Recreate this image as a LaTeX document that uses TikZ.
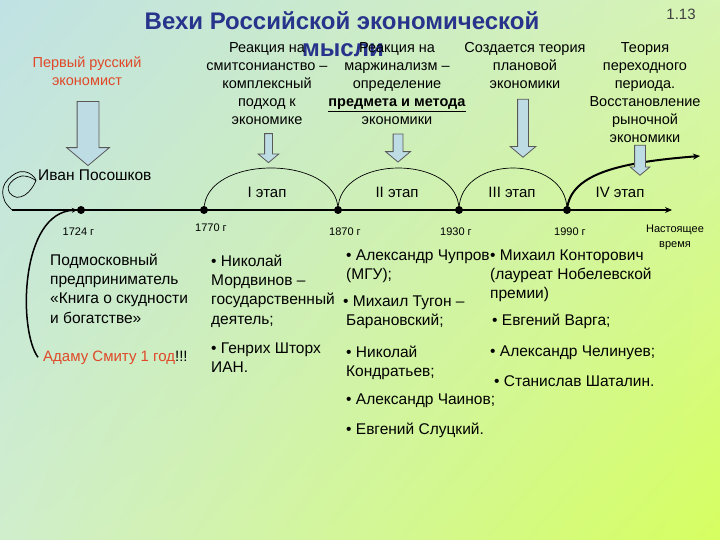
\documentclass[tikz,border=0pt]{standalone}
\usepackage{fontspec}
\setmainfont{Liberation Sans}
\usetikzlibrary{arrows.meta,shapes.arrows,shadings}

\definecolor{titleblue}{RGB}{40,52,140}
\definecolor{hintred}{RGB}{224,72,40}
\definecolor{arrowfill}{RGB}{190,220,228}
\definecolor{bgA}{RGB}{192,226,228}
\definecolor{bgB}{RGB}{214,244,178}
\definecolor{bgC}{RGB}{208,238,204}
\definecolor{bgD}{RGB}{214,255,96}

\newcommand\fs[2]{\fontsize{#1}{#2}\selectfont}

\begin{document}
\begin{tikzpicture}[x=1pt, y=-1pt,
  headline/.style={font=\fs{24}{28}\bfseries, text=titleblue, inner sep=0pt, anchor=base},
  lead/.style={font=\fs{14.5}{18}, align=center, inner sep=0pt, anchor=north},
  entry/.style={font=\fs{15.5}{19.3}, align=left, inner sep=0pt, anchor=north west},
  date/.style={font=\fs{11}{15}, inner sep=0pt, anchor=base, align=center},
  stagelbl/.style={font=\fs{15}{18}, inner sep=0pt, anchor=base},
  dot/.style={circle, fill=black, minimum size=8pt, inner sep=0pt},
  timeline/.style={line width=2.4pt, -{Stealth[length=7pt,width=6pt]}},
  stagearc/.style={line width=0.7pt},
  blockarr/.style={single arrow, draw=black!65, fill=arrowfill, line width=0.8pt,
                   shape border rotate=270, single arrow tip angle=100}
]
  \useasboundingbox (0,0) rectangle (720,540);
  \shade[upper left=bgA, upper right=bgB, lower left=bgC, lower right=bgD]
    (0,0) rectangle (720,540);

  % Title
  \node[headline] (t1) at (342,30) {Вехи Российской экономической};
  \node[headline] (t2) at (343,57) {мысли};
  \node[font=\fs{15}{18}, text=black!75, inner sep=0pt, anchor=base] (pg) at (681,20) {1.13};

  % Top captions
  \node[lead, text=hintred] (first) at (87,54.4) {\strut Первый русский\\экономист};
  \node[lead] (c1) at (267,40) {\strut Реакция на\\смитсонианство –\\комплексный\\подход к\\экономике};
  \node[lead] (c2) at (397,40) {\strut Реакция на\\маржинализм –\\определение\\\underline{\textbf{предмета и метода}}\\экономики};
  \node[lead] (c3) at (525,40) {\strut Создается теория\\плановой\\экономики};
  \node[lead] (c4) at (645,40) {\strut Теория\\переходного\\периода.\\Восстановление\\рыночной\\экономики};

  % Timeline
  \coordinate (ax0) at (12,210);
  \coordinate (axend) at (672,210);
  \coordinate (now) at (700,156);
  \draw[timeline] (ax0) -- (axend);
  \node[dot] (d1724) at (81,210) {};
  \node[dot] (d1770) at (204,210) {};
  \node[dot] (d1870) at (338,210) {};
  \node[dot] (d1930) at (459,210) {};
  \node[dot] (d1990) at (567,210) {};

  \draw[stagearc] (d1770.center) .. controls +(0,-56) and +(0,-56) .. (d1870.center);
  \draw[stagearc] (d1870.center) .. controls +(0,-56) and +(0,-56) .. (d1930.center);
  \draw[stagearc] (d1930.center) .. controls +(0,-56) and +(0,-56) .. (d1990.center);
  \draw[line width=2pt, -{Stealth[length=7pt,width=6pt]}]
    (d1990.center) .. controls +(3,-38) and +(-75,6) .. (now);

  % curl at the start
  \coordinate (tip) at (36,180.7);
  \draw[line width=0.7pt] plot[smooth, tension=0.6] coordinates {(ax0) (5,201.7) (2.7,191.7)
    (5,183.3) (11.7,176) (20,171.7) (28.3,172.7) (34.3,177.3) (tip)};
  \draw[line width=0.7pt] plot[smooth, tension=0.6] coordinates {(tip) (31.7,188.3) (25,195)
    (16.7,197.3) (10,193.3) (8.3,186.7) (13.3,180) (21.7,176) (30,177.3) (tip)};

  % Labels on the line
  \node[font=\fs{15.5}{18}, inner sep=0pt, anchor=base west] (ivan) at (38,181) {Иван Посошков};
  \node[stagelbl] (s1) at (267,198) {I этап};
  \node[stagelbl] (s2) at (397,198) {II этап};
  \node[stagelbl] (s3) at (512,198) {III этап};
  \node[stagelbl] (s4) at (620,198) {IV этап};
  \node[date] (y1724) at (78.5,236) {1724 г};
  \node[date] (y1770) at (211,231) {1770 г};
  \node[date] (y1870) at (345,236) {1870 г};
  \node[date] (y1930) at (456,236) {1930 г};
  \node[date] (y1990) at (570,236) {1990 г};
  \node[date, anchor=north] (ynow) at (675,221.5) {\strut Настоящее\\время};

  % Block arrows
  \node[blockarr, inner sep=10.5pt, minimum height=64pt, single arrow head extend=10.5pt] (a0) at (88,129) {};
  \node[blockarr, inner sep=3.5pt, minimum height=29pt, single arrow head extend=6.5pt] (a1) at (268.5,146.5) {};
  \node[blockarr, inner sep=4.5pt, minimum height=28pt, single arrow head extend=7.5pt] (a2) at (398,146) {};
  \node[blockarr, inner sep=5pt, minimum height=58pt, single arrow head extend=7.5pt] (a3) at (523,126) {};
  \node[blockarr, inner sep=5pt, minimum height=30pt, single arrow head extend=4.5pt] (a4) at (640,158) {};

  % Lower text
  \node[entry] (b1) at (50,251.5) {\strut Подмосковный\\предприниматель\\«Книга о скудности\\и богатстве»};
  \node[font=\fs{15}{18}, text=hintred, inner sep=0pt, anchor=base west] (smith) at (43,361)
    {Адаму Смиту 1 год{\color{black}!!!}};
  \draw[line width=1.5pt, -{Stealth[length=5pt,width=5pt]}]
    ([xshift=-5pt]smith.west) .. controls (18,330) and (20,212) .. (d1724);

  \node[entry] (b2) at (211,252.5) {\strut • Николай\\Мордвинов –\\государственный\\деятель;};
  \node[entry] (b3) at (211,339.5) {\strut • Генрих Шторх\\ИАН.};

  \node[entry] (b4) at (346,246.5) {\strut • Александр Чупров\\(МГУ);};
  \node[entry] (b5) at (343,292.5) {\strut • Михаил Тугон –\\\hspace*{3pt}Барановский;};
  \node[entry] (b6) at (346,343.5) {\strut • Николай\\Кондратьев;};
  \node[entry] (b7) at (346,390.5) {\strut • Александр Чаинов;};
  \node[entry] (b8) at (346,420.5) {\strut • Евгений Слуцкий.};

  \node[entry] (b9) at (490,246.5) {\strut • Михаил Конторович\\(лауреат Нобелевской\\премии)};
  \node[entry] (b10) at (492,311.5) {\strut • Евгений Варга;};
  \node[entry] (b11) at (490,342.5) {\strut • Александр Челинуев;};
  \node[entry] (b12) at (494,372.5) {\strut • Станислав Шаталин.};
\end{tikzpicture}
\end{document}
